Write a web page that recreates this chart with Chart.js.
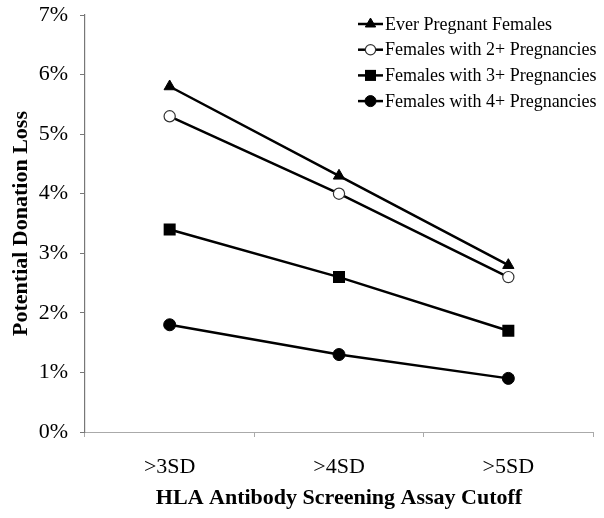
<!DOCTYPE html>
<html>
<head>
<meta charset="utf-8">
<script src="https://cdn.jsdelivr.net/npm/chart.js@4/dist/chart.umd.min.js"></script>
<style>
  html, body { margin: 0; padding: 0; background: #fff; }
  #wrap { width: 604px; height: 518px; }
</style>
</head>
<body>
<div id="wrap"><canvas id="c" width="604" height="518"></canvas></div>
<script>
const categories = ['>3SD', '>4SD', '>5SD'];
const seriesLabels = ['Ever Pregnant Females', 'Females with 2+ Pregnancies', 'Females with 3+ Pregnancies', 'Females with 4+ Pregnancies'];
const everPregnant = [5.8, 4.3, 2.8];
const twoPlus = [5.3, 4.0, 2.6];
const threePlus = [3.4, 2.6, 1.7];
const fourPlus = [1.8, 1.3, 0.9];
const yTicks = [0, 1, 2, 3, 4, 5, 6, 7];

const FONT = "'Liberation Serif', 'Times New Roman', serif";

const styles = [
  { pointStyle: 'triangle', radius: 6.5, bg: '#000', border: '#000', bw: 1 },
  { pointStyle: 'circle', radius: 5.6, bg: '#fff', border: '#333', bw: 1.2 },
  { pointStyle: 'rect', radius: 8.5, bg: '#000', border: '#000', bw: 0 },
  { pointStyle: 'circle', radius: 6, bg: '#000', border: '#000', bw: 1 }
];
const seriesData = [everPregnant, twoPlus, threePlus, fourPlus];

const datasets = seriesData.map((d, i) => ({
  label: seriesLabels[i],
  data: d,
  borderColor: '#000',
  borderWidth: 2.5,
  fill: false,
  tension: 0,
  pointStyle: styles[i].pointStyle,
  pointRadius: styles[i].radius,
  pointHoverRadius: styles[i].radius,
  pointBackgroundColor: styles[i].bg,
  pointBorderColor: styles[i].border,
  pointBorderWidth: styles[i].bw
}));

const legendPlugin = {
  id: 'customLegend',
  afterDraw(chart) {
    const ctx = chart.ctx;
    const x0 = 358, x1 = 383, textX = 385;
    const yStart = 24, step = 25.7;
    ctx.save();
    chart.data.datasets.forEach((ds, i) => {
      const y = yStart + i * step;
      ctx.strokeStyle = '#000';
      ctx.lineWidth = 2.5;
      ctx.beginPath();
      ctx.moveTo(x0, y);
      ctx.lineTo(x1, y);
      ctx.stroke();
      ctx.fillStyle = ds.pointBackgroundColor;
      ctx.strokeStyle = ds.pointBorderColor;
      ctx.lineWidth = ds.pointBorderWidth;
      Chart.helpers.drawPoint(ctx, { pointStyle: ds.pointStyle, radius: ds.pointRadius * 0.92, borderWidth: ds.pointBorderWidth, rotation: 0 }, (x0 + x1) / 2, y);
      ctx.fillStyle = '#000';
      ctx.font = "18px " + FONT;
      ctx.textBaseline = 'middle';
      ctx.textAlign = 'left';
      ctx.fillText(ds.label, textX, y + 1);
    });
    ctx.restore();
  }
};

new Chart(document.getElementById('c'), {
  type: 'line',
  data: { labels: categories, datasets },
  plugins: [legendPlugin],
  options: {
    responsive: false,
    animation: false,
    devicePixelRatio: 1,
    layout: { padding: { top: 15, right: 11, bottom: 0, left: 0 } },
    plugins: {
      legend: { display: false },
      tooltip: { enabled: false }
    },
    scales: {
      x: {
        type: 'category',
        offset: true,
        grid: { offset: true, drawOnChartArea: false, drawTicks: true, tickLength: 5, color: '#aaa' },
        border: { color: '#aaa', width: 1 },
        ticks: { color: '#000', font: { family: FONT, size: 22 }, padding: 17 },
        title: { display: true, text: 'HLA Antibody Screening Assay Cutoff', color: '#000', font: { family: FONT, size: 22, weight: 'bold' }, padding: { top: 0, bottom: 6 } },
        afterFit(scale) { scale.height = 86; scale.paddingLeft = 0; scale.paddingRight = 0; }
      },
      y: {
        min: 0,
        max: 7,
        afterBuildTicks(scale) { scale.ticks = yTicks.map(v => ({ value: v })); },
        grid: { drawOnChartArea: false, drawTicks: true, tickLength: 5, color: '#777' },
        border: { color: '#777', width: 1.2 },
        ticks: { color: '#000', font: { family: FONT, size: 22 }, padding: 12, callback: v => v + '%' },
        title: { display: true, text: 'Potential Donation Loss', color: '#000', font: { family: FONT, size: 22, weight: 'bold' }, padding: { top: 8, bottom: 0 } },
        afterFit(scale) { scale.width = 85; scale.paddingTop = 0; scale.paddingBottom = 0; }
      }
    }
  }
});
</script>
</body>
</html>
